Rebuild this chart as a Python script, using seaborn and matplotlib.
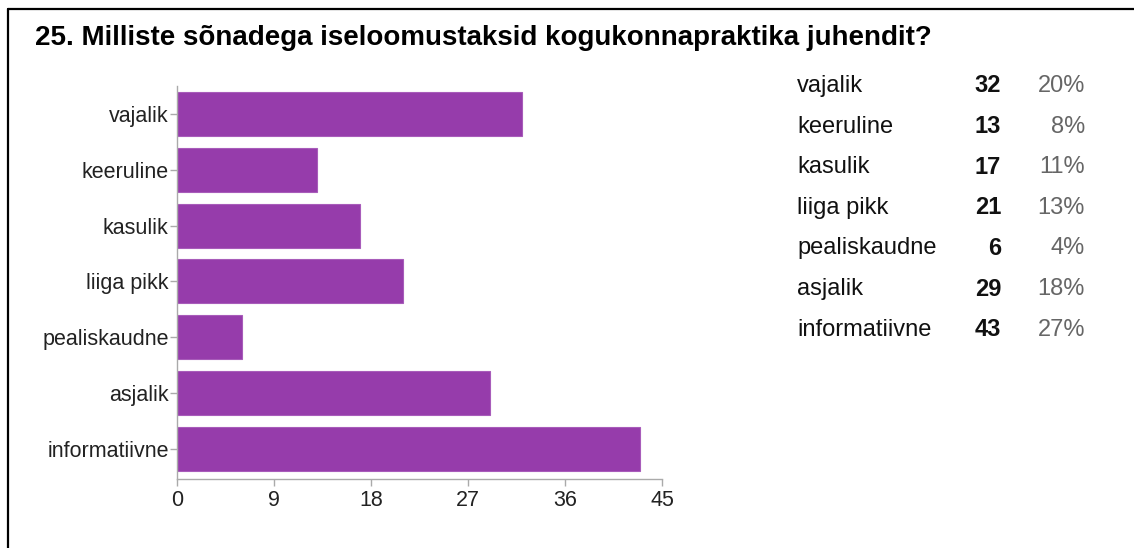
import matplotlib
matplotlib.use("Agg")
import matplotlib.pyplot as plt
from matplotlib.lines import Line2D
import seaborn as sns
import pandas as pd

title = "25. Milliste sõnadega iseloomustaksid kogukonnapraktika juhendit?"
categories = ["vajalik", "keeruline", "kasulik", "liiga pikk", "pealiskaudne", "asjalik", "informatiivne"]
counts = [32, 13, 17, 21, 6, 29, 43]
percents = ["20%", "8%", "11%", "13%", "4%", "18%", "27%"]
xticks = [0, 9, 18, 27, 36, 45]

sns.set_theme(style="white")
plt.rcParams['font.family'] = ['Liberation Sans', 'DejaVu Sans']

W, H = 1134, 548
fig = plt.figure(figsize=(W / 100, H / 100), dpi=100)
fig.patch.set_facecolor("white")

# axes: x from 177 to 662 px, y from 86 to 479 px
ax = fig.add_axes([177 / W, 1 - 479 / H, (662 - 177) / W, (479 - 86) / H])
df = pd.DataFrame({"cat": categories, "n": counts})
sns.barplot(data=df, x="n", y="cat", orient="h", color="#963CAB", width=0.79,
            saturation=1, edgecolor="#A85CBA", linewidth=0.8, ax=ax)
ax.set_xlim(0, 45)
ax.set_ylim(6.54, -0.5)
ax.set_xticks(xticks)
ax.set_xticklabels([str(t) for t in xticks])
ax.set_xlabel("")
ax.set_ylabel("")
for s in ["top", "right"]:
    ax.spines[s].set_visible(False)
for s in ["left", "bottom"]:
    ax.spines[s].set_color("#aaaaaa")
    ax.spines[s].set_linewidth(1.0)
ax.tick_params(axis="both", which="both", length=5, width=1, color="#aaaaaa",
               labelsize=15.5, labelcolor="#222222", pad=1)
ax.tick_params(axis="x", bottom=True, pad=3)
ax.tick_params(axis="y", left=True)

# title
fig.text(35 / W, 1 - 38 / H, title, fontsize=20, fontweight="bold", color="#000000",
         ha="left", va="center")

# right-side summary table
row0 = 86
step = 40.6
for i, (c, n, p) in enumerate(zip(categories, counts, percents)):
    y = 1 - (row0 + i * step) / H
    fig.text(797 / W, y, c, fontsize=17, color="#111111", ha="left", va="center")
    fig.text(1001 / W, y, str(n), fontsize=17, fontweight="bold", color="#111111",
             ha="right", va="center")
    fig.text(1085 / W, y, p, fontsize=17, color="#666666", ha="right", va="center")

# frame lines
fig.add_artist(Line2D([8 / W, 1.0], [1 - 9 / H, 1 - 9 / H], color="black", lw=1.6))
fig.add_artist(Line2D([8 / W, 8 / W], [1 - 9 / H, 0.0], color="black", lw=1.6))

fig.savefig("out.png", dpi=100, facecolor="white")
